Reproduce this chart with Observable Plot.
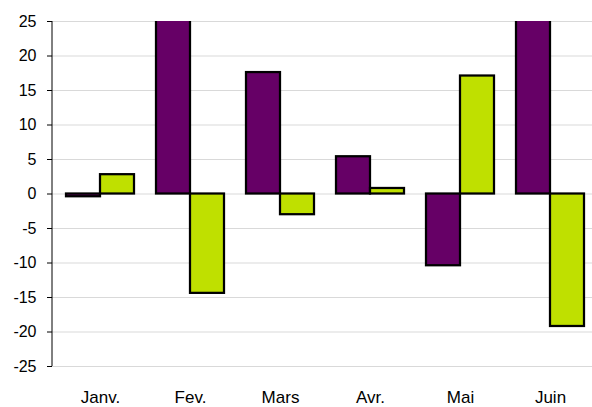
<!DOCTYPE html>
<html><head><meta charset="utf-8">
<script src="https://cdn.jsdelivr.net/npm/d3@7"></script>
<script src="https://cdn.jsdelivr.net/npm/@observablehq/plot@0.6"></script>
<style>
html,body{margin:0;padding:0;background:#fff;overflow:hidden;}
</style>
</head><body>
<div id="chart"></div>
<script>
const months = ["Janv.", "Fev.", "Mars", "Avr.", "Mai", "Juin"];
const seriesA = [-0.4, 31, 17.6, 5.4, -10.4, 31];
const seriesB = [2.8, -14.4, -3.0, 0.8, 17.1, -19.2];
const yTicks = [-25, -20, -15, -10, -5, 0, 5, 10, 15, 20, 25];

const dataA = months.map((m, i) => ({month: m, value: seriesA[i]}));
const dataB = months.map((m, i) => ({month: m, value: seriesB[i]}));

const W = 592, H = 407;
const mL = 52, mR = -5, mT = 21, mB = 41;

const plot = Plot.plot({
  width: W, height: H,
  marginLeft: mL, marginRight: mR, marginTop: mT, marginBottom: mB,
  style: {fontFamily: "'Liberation Sans', Arial, sans-serif", fontSize: "16px", color: "#000", background: "#fff", overflow: "hidden"},
  x: {domain: months, paddingInner: 0.626, paddingOuter: 0.313, label: null},
  y: {domain: [-25, 25], label: null},
  marks: [
    Plot.gridY(yTicks, {stroke: "#d9d9d9", strokeOpacity: 1}),
    Plot.barY(dataA, {x: "month", y: "value", dx: -17, fill: "#660066", stroke: "#000", strokeWidth: 2.25, clip: true}),
    Plot.barY(dataB, {x: "month", y: "value", dx: 17, fill: "#bfe000", stroke: "#000", strokeWidth: 2.25, clip: true}),
    Plot.axisY(yTicks, {tickSize: 5, tickPadding: 11, tickFormat: d => String(d), fontSize: 16}),
    Plot.axisX({tickSize: 0, tickPadding: 24, fontSize: 17, label: null})
  ]
});

const ys = plot.scale("y");
d3.select(plot).append("line")
  .attr("x1", mL).attr("x2", mL)
  .attr("y1", ys.apply(25)).attr("y2", ys.apply(-25))
  .attr("stroke", "#000").attr("stroke-width", 1);

document.getElementById("chart").appendChild(plot);
</script>
</body></html>
